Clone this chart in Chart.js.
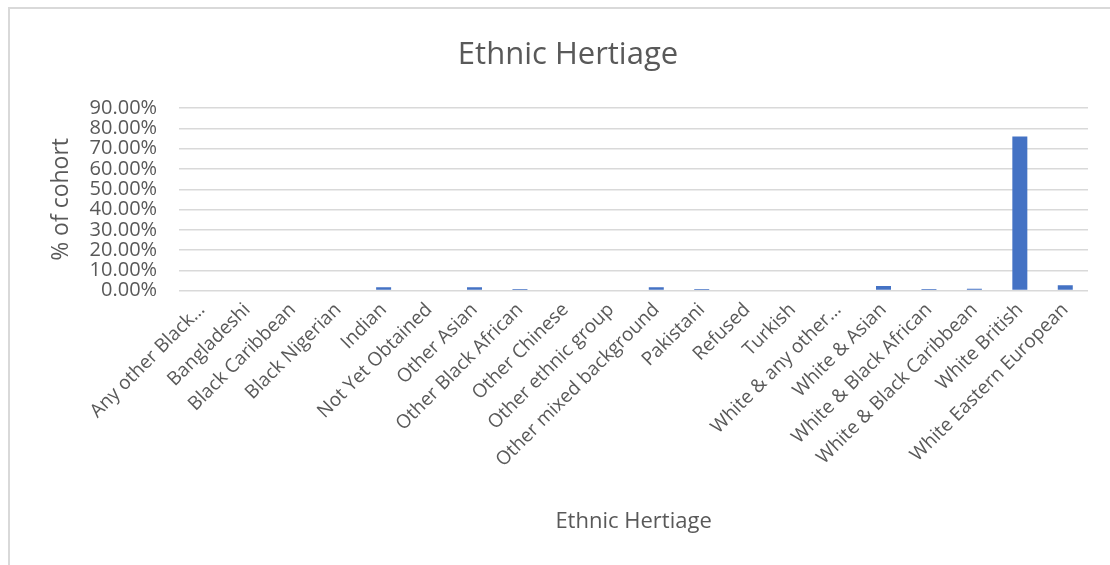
<!DOCTYPE html>
<html>
<head>
<meta charset="utf-8">
<script src="https://cdn.jsdelivr.net/npm/chart.js@4.4.1/dist/chart.umd.min.js"></script>
<style>
  html, body { margin: 0; padding: 0; background: #fff; }
  body { width: 1110px; height: 565px; overflow: hidden; position: relative; }
  #frame {
    position: absolute; left: 8px; top: 7px; width: 1200px; height: 700px;
    border-left: 2px solid #d9d9d9; border-top: 2px solid #d9d9d9;
  }
  #wrap { position: absolute; left: 0; top: 0; width: 1110px; height: 565px; }
</style>
</head>
<body>
<div id="frame"></div>
<div id="wrap"><canvas id="barChart"></canvas></div>
<script>
const categories = [
    'Any other Black…', 'Bangladeshi', 'Black Caribbean', 'Black Nigerian', 'Indian',
    'Not Yet Obtained', 'Other Asian', 'Other Black African', 'Other Chinese', 'Other ethnic group',
    'Other mixed background', 'Pakistani', 'Refused', 'Turkish', 'White & any other…',
    'White & Asian', 'White & Black African', 'White & Black Caribbean', 'White British', 'White Eastern European'
];

// % of cohort
const cohortShare = [
    0, 0, 0, 0, 1.7,
    0, 1.7, 0.8, 0, 0,
    1.7, 0.8, 0, 0, 0,
    2.3, 0.8, 0.9, 76.0, 2.6
];

const yTicks = [0, 10, 20, 30, 40, 50, 60, 70, 80, 90];

const textColor = '#595959';
const fontFamily = '"Open Sans", "Liberation Sans", sans-serif';

const ctx = document.getElementById('barChart').getContext('2d');
const barChart = new Chart(ctx, {
    type: 'bar',
    data: {
        labels: categories,
        datasets: [{
            label: '% of cohort',
            data: cohortShare,
            backgroundColor: '#4472C4',
            barPercentage: 0.66,
            categoryPercentage: 0.5
        }]
    },
    options: {
        responsive: true,
        maintainAspectRatio: false,
        animation: false,
        layout: {
            padding: { left: 48, right: 22, top: 37, bottom: 26 }
        },
        scales: {
            y: {
                min: 0,
                max: 90,
                afterBuildTicks: axis => {
                    axis.ticks = yTicks.map(v => ({ value: v }));
                },
                ticks: {
                    autoSkip: false,
                    color: textColor,
                    font: { family: fontFamily, size: 20 },
                    padding: 22,
                    callback: value => value.toFixed(2) + '%'
                },
                title: {
                    display: true,
                    text: '% of cohort',
                    color: textColor,
                    font: { family: fontFamily, size: 23 },
                    padding: { top: 0, bottom: -8 }
                },
                grid: {
                    color: '#d9d9d9',
                    lineWidth: 1.5,
                    drawTicks: false
                },
                border: { display: false }
            },
            x: {
                ticks: {
                    autoSkip: false,
                    maxRotation: 45,
                    minRotation: 45,
                    color: textColor,
                    font: { family: fontFamily, size: 19 },
                    padding: 0
                },
                title: {
                    display: true,
                    text: 'Ethnic Hertiage',
                    color: textColor,
                    font: { family: fontFamily, size: 22 },
                    padding: { top: 37 }
                },
                grid: { display: false },
                border: { display: false }
            }
        },
        plugins: {
            legend: { display: false },
            tooltip: { enabled: false },
            title: {
                display: true,
                text: 'Ethnic Hertiage',
                color: textColor,
                font: { family: fontFamily, size: 31, weight: 'normal' },
                padding: { top: 0, bottom: 34 }
            }
        }
    }
});
</script>
</body>
</html>
